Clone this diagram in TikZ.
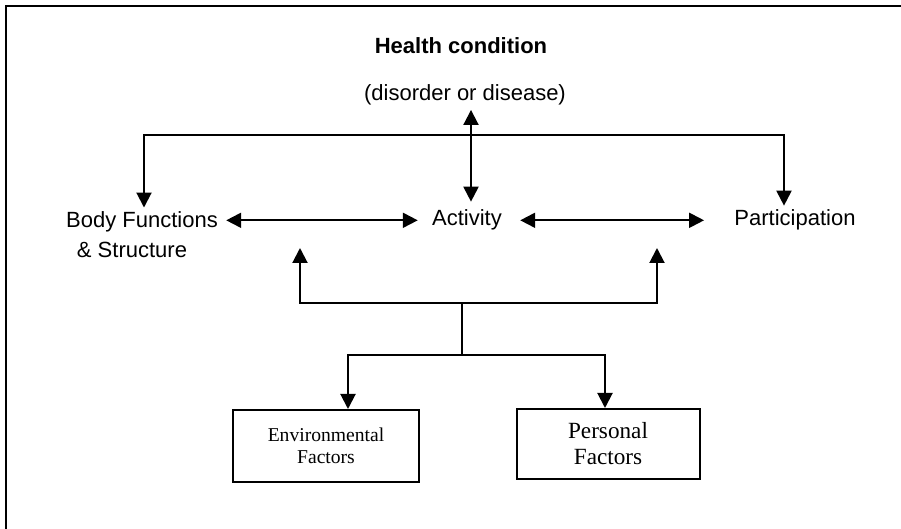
\documentclass[tikz,border=0pt]{standalone}
\usepackage{fontspec}
\setmainfont{Liberation Sans}
\newfontfamily\boxfont{Liberation Serif}
\usepackage{tikz}
\usetikzlibrary{arrows.meta}

\tikzset{
  lbl/.style={inner sep=2pt,font=\fontsize{11}{15}\selectfont},
  factor/.style={draw,line width=1pt,inner sep=2pt,align=center},
  tip/.style={line width=1pt,-{Triangle[width=7.5pt,length=7.5pt]}},
  both/.style={line width=1pt,{Triangle[width=7.5pt,length=7.5pt]}-{Triangle[width=7.5pt,length=7.5pt]}}
}

\begin{document}
\begin{tikzpicture}[x=0.5pt,y=-0.5pt]
  \useasboundingbox (0,0) rectangle (901,529);
  \draw[line width=1pt] (6,529) -- (6,6) -- (901,6);
  % the health condition on top
  \node[lbl,anchor=base,font=\bfseries\fontsize{11}{15}\selectfont] (health) at (461,54) {Health condition};
  \node[lbl,anchor=base] (disorder) at (465,101) {(disorder or disease)};
  % the three components
  \node[lbl,align=center] (body) at (142,235) {Body Functions\\\& Structure\hspace*{10pt}};
  \node[lbl,anchor=base] (activity) at (467,226) {Activity};
  \node[lbl,anchor=base] (particip) at (795,226) {Participation};
  % the contextual factors
  \node[factor,minimum width=93pt,minimum height=36pt,font=\boxfont\fontsize{9.8}{11}\selectfont] (env) at (326,446) {Environmental\\Factors};
  \node[factor,minimum width=91.5pt,minimum height=35pt,font=\boxfont\fontsize{11.6}{13}\selectfont] (pers) at (608,444) {Personal\\Factors};
  \coordinate (hub) at (471,135);
  \coordinate (upbus) at (462,303);
  \coordinate (lowbus) at (462,355);
  \coordinate (upL) at (300,248);
  \coordinate (upR) at (657,248);
  \draw[tip] (hub) -| ([xshift=1pt]body.north);
  \draw[tip] (hub) -| ([xshift=-5.5pt]particip.north);
  \draw[both] (disorder.south -| hub) -- ([yshift=2pt]activity.north -| hub);
  \draw[both,shorten <=2pt,shorten >=5pt] (body.east |- activity.west) -- (activity.west);
  \draw[both,shorten <=7pt,shorten >=13pt] (activity.east) -- (particip.west);
  \draw[tip] (upbus) -| (upL);
  \draw[tip] (upbus) -| (upR);
  \draw[line width=1pt] (upbus) -- (lowbus);
  \draw[tip] (lowbus) -| ([xshift=11pt]env.north);
  \draw[tip] (lowbus) -| ([xshift=-1.5pt]pers.north);
\end{tikzpicture}
\end{document}
